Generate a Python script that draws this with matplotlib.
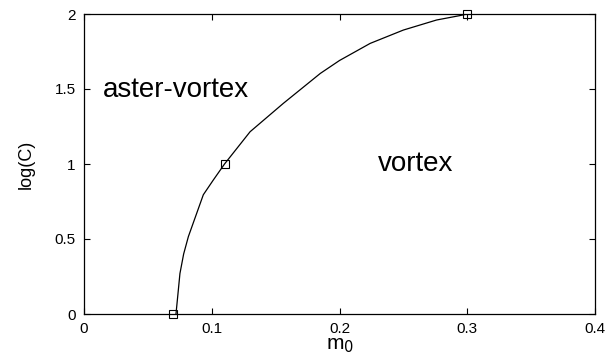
import matplotlib
matplotlib.use("Agg")
import matplotlib.pyplot as plt

plt.rcParams['font.family'] = ['Liberation Sans', 'DejaVu Sans']

# boundary curve
m0_line = [0.0720, 0.0735, 0.0751, 0.0780, 0.0817, 0.0882, 0.0934, 0.1012, 0.110, 0.130,
           0.156, 0.185, 0.200, 0.224, 0.250, 0.276, 0.294, 0.300]
logc_line = [0.0, 0.13, 0.27, 0.40, 0.516, 0.671, 0.795, 0.893, 1.0, 1.215,
             1.404, 1.604, 1.690, 1.804, 1.893, 1.960, 1.989, 2.0]

# simulated points
m0_pts = [0.07, 0.11, 0.30]
logc_pts = [0.0, 1.0, 2.0]

fig = plt.figure(figsize=(6.16, 3.6), dpi=100)
ax = fig.add_axes([84/616, 46/360, 511/616, 300/360])

ax.plot(m0_line, logc_line, color='black', lw=0.9)
ax.plot(m0_pts, logc_pts, 's', ms=6, mfc='none', mec='black', mew=0.8, clip_on=False)

ax.text(0.0149, 1.495, 'aster-vortex', fontsize=20, va='center', ha='left')
ax.text(0.2299, 1.0, 'vortex', fontsize=20, va='center', ha='left')

ax.set_xlim(0, 0.4)
ax.set_ylim(0, 2)
ax.set_xticks([0, 0.1, 0.2, 0.3, 0.4])
ax.set_xticklabels(['0', '0.1', '0.2', '0.3', '0.4'])
ax.set_yticks([0, 0.5, 1, 1.5, 2])
ax.set_yticklabels(['0', '0.5', '1', '1.5', '2'])
ax.tick_params(direction='in', top=True, right=True, length=4, width=0.8, labelsize=11, pad=6)
for s in ax.spines.values():
    s.set_linewidth(0.9)

ax.set_xlabel('m$_0$', fontsize=15, labelpad=0)
ax.set_ylabel('log(C)', fontsize=13, labelpad=14)

fig.savefig('out.png', dpi=100)
